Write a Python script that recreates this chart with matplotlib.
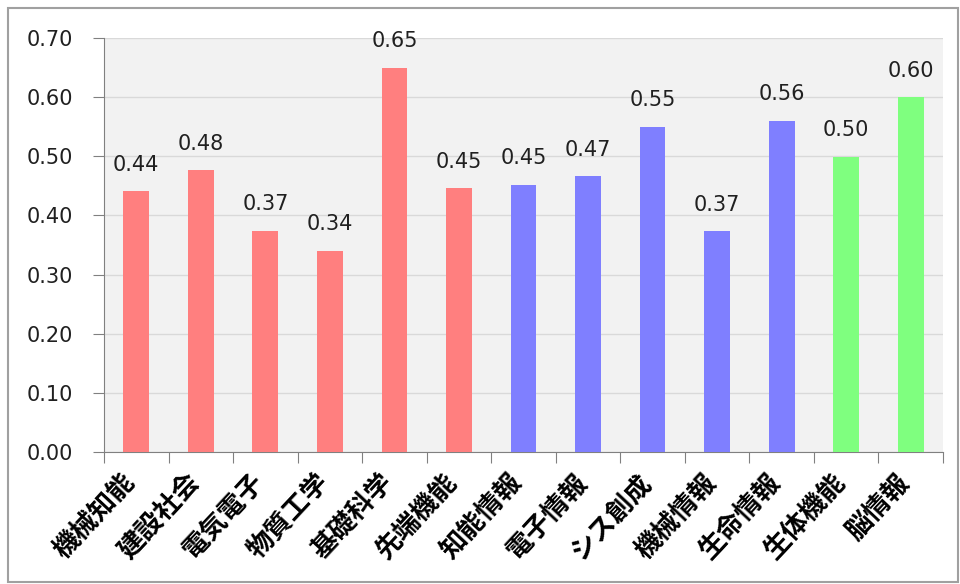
import matplotlib.pyplot as plt
from matplotlib.patches import Rectangle
from matplotlib.transforms import ScaledTranslation
import numpy as np

# ===================== データ =====================
categories = ["機械知能", "建設社会", "電気電子", "物質工学", "基礎科学", "先端機能",
              "知能情報", "電子情報", "シス創成", "機械情報", "生命情報", "生体機能", "脳情報"]
values = [0.441, 0.476, 0.374, 0.340, 0.650, 0.446,
          0.452, 0.466, 0.550, 0.373, 0.560, 0.499, 0.600]
groups = ["A"] * 6 + ["B"] * 5 + ["C"] * 2
yticks = [0.0, 0.1, 0.2, 0.3, 0.4, 0.5, 0.6, 0.7]

group_colors = {"A": "#ff7f7f", "B": "#7f7fff", "C": "#7fff7f"}
jp_font = ["Noto Sans CJK JP", "DejaVu Sans"]
num_font = ["DejaVu Sans"]

fig = plt.figure(figsize=(9.6, 5.84), dpi=100)
ax = fig.add_axes([104 / 960, 1 - 452 / 584, 839 / 960, 414 / 584])

# 外枠
fig.patches.append(Rectangle((8 / 960, 2 / 584), 950 / 960, 574 / 584,
                             transform=fig.transFigure, fill=False,
                             edgecolor="#a0a0a0", linewidth=1.5))

ax.set_facecolor("#f2f2f2")
x = np.arange(len(categories))
colors = [group_colors[g] for g in groups]
ax.bar(x, values, width=0.4, color=colors, zorder=3)

for xi, v in zip(x, values):
    ax.text(xi, v + 0.028, f"{v:.2f}", ha="center", va="bottom",
            fontsize=15, color="#202020", family=num_font)

ax.set_xlim(-0.5, len(categories) - 0.5)
ax.set_ylim(0, 0.70)
ax.set_yticks(yticks)
ax.set_yticklabels([f"{t:.2f}" for t in yticks], fontsize=15, family=num_font, color="#202020")
ax.yaxis.grid(True, color="#d9d9d9", linewidth=1, zorder=0)
ax.set_axisbelow(True)

# x軸: 目盛りはカテゴリの境界に、ラベルは斜めに
ax.set_xticks(np.arange(len(categories) + 1) - 0.5)
ax.set_xticklabels([])
ax.tick_params(axis="x", length=8, color="#808080")
ax.tick_params(axis="y", length=8, color="#808080", pad=14)

lbl_tr = ax.get_xaxis_transform() + ScaledTranslation(-15 / 100, -17 / 100, fig.dpi_scale_trans)
for xi, name in zip(x, categories):
    ax.text(xi, 0, name, transform=lbl_tr, rotation=47, ha="right", va="top",
            rotation_mode="anchor", fontsize=19, fontweight="bold", family=jp_font,
            clip_on=False)

for s in ["top", "right"]:
    ax.spines[s].set_visible(False)
for s in ["left", "bottom"]:
    ax.spines[s].set_color("#808080")

fig.savefig("out.png", dpi=100, facecolor="white")
